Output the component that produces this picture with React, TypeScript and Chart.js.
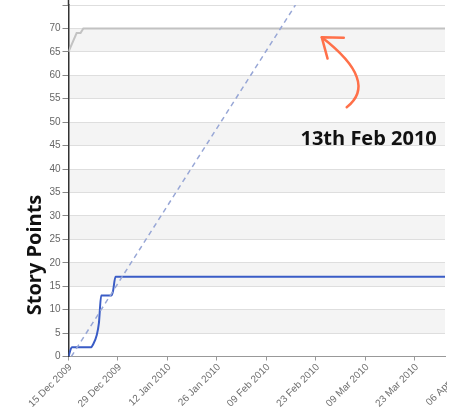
import React, { useEffect, useRef } from "react";
import { Chart, registerables } from "chart.js";

Chart.register(...registerables);

// x values are days since 15 Dec 2009
const xTickDays = [0, 14, 28, 42, 56, 70, 84, 98, 112];
const xTickLabels = [
  "15 Dec 2009",
  "29 Dec 2009",
  "12 Jan 2010",
  "26 Jan 2010",
  "09 Feb 2010",
  "23 Feb 2010",
  "09 Mar 2010",
  "23 Mar 2010",
  "06 Apr 2010",
];
const xMaxDay = 106.5;
const yMax = 75;
const yStep = 5;

// total scope (grey)
const scopeDays = [0, 2.3, 3.4, 4.2, 106.5];
const scopeValues = [65, 69, 69, 70, 70];

// completed story points (blue)
const doneDays = [0, 0.95, 6.4, 6.9, 8.0, 8.6, 9.25, 12.1, 12.55, 13.3, 106.5];
const doneValues = [0, 2, 2, 2.5, 4.6, 7.1, 13, 13, 13.8, 17, 17];

// ideal / projected line (dashed)
const idealDays = [0.8, 64.2];
const idealValues = [0, 75];

const yTitle = "Story Points";
const noteText = "13th Feb 2010";
// annotation anchor points in data coordinates [day, value]
const noteAt = [84.9, 46.3];
const arrowStart = [78.7, 53.2];
const arrowCtrl = [87.9, 58.6];
const arrowTip = [71.65, 68.1];

const toPoints = (xs: number[], ys: number[]) => xs.map((x, i) => ({ x, y: ys[i] }));

const CANVAS_H = 417;
const SHIFT = 3;

const bandsPlugin = {
  id: "bands",
  beforeDraw(chart: any) {
    const { ctx, chartArea, scales } = chart;
    const y = scales.y;
    ctx.save();
    ctx.fillStyle = "#f4f4f4";
    for (let v = 0; v < yMax; v += yStep) {
      if ((v / yStep) % 2 === 1) {
        const top = y.getPixelForValue(v + yStep);
        const bot = y.getPixelForValue(v);
        ctx.fillRect(chartArea.left, top, chartArea.right - chartArea.left, bot - top);
      }
    }
    ctx.restore();
  },
};

const overlayPlugin = {
  id: "overlay",
  afterDraw(chart: any) {
    const { ctx, chartArea, scales, width, height } = chart;
    const x = scales.x;
    const y = scales.y;
    ctx.save();

    // axis line continues to the top edge
    ctx.strokeStyle = "#333";
    ctx.lineWidth = 1.5;
    ctx.beginPath();
    ctx.moveTo(chartArea.left, 0);
    ctx.lineTo(chartArea.left, chartArea.top);
    ctx.stroke();

    // x tick labels (rotated), including those beyond the visible range
    ctx.save();
    ctx.beginPath();
    ctx.rect(0, chartArea.bottom, chartArea.right + 2, height - chartArea.bottom);
    ctx.clip();
    ctx.font = "10px 'Liberation Sans', Arial, sans-serif";
    ctx.fillStyle = "#6e6e6e";
    ctx.textAlign = "right";
    ctx.textBaseline = "middle";
    xTickDays.forEach((d, i) => {
      const px = x.getPixelForValue(d);
      ctx.save();
      ctx.translate(px + 2, chartArea.bottom + 9);
      ctx.rotate(-Math.PI / 4);
      ctx.fillText(xTickLabels[i], 0, 0);
      ctx.restore();
    });
    ctx.restore();

    // y title
    ctx.save();
    ctx.font = "bold 20px 'Open Sans', sans-serif";
    ctx.fillStyle = "#111";
    ctx.textAlign = "center";
    ctx.textBaseline = "middle";
    ctx.translate(35, 255 + SHIFT);
    ctx.rotate(-Math.PI / 2);
    ctx.fillText(yTitle, 0, 0);
    ctx.restore();

    // note text
    ctx.font = "bold 20px 'Open Sans', sans-serif";
    ctx.fillStyle = "#111";
    ctx.textAlign = "center";
    ctx.textBaseline = "middle";
    ctx.fillText(noteText, x.getPixelForValue(noteAt[0]), y.getPixelForValue(noteAt[1]));

    // arrow
    const sx = x.getPixelForValue(arrowStart[0]);
    const sy = y.getPixelForValue(arrowStart[1]);
    const cx = x.getPixelForValue(arrowCtrl[0]);
    const cy = y.getPixelForValue(arrowCtrl[1]);
    const tx = x.getPixelForValue(arrowTip[0]);
    const ty = y.getPixelForValue(arrowTip[1]);
    ctx.strokeStyle = "#ff7049";
    ctx.lineWidth = 2.5;
    ctx.lineCap = "round";
    ctx.lineJoin = "round";
    ctx.beginPath();
    ctx.moveTo(sx, sy);
    ctx.quadraticCurveTo(cx, cy, tx, ty);
    ctx.stroke();
    const back = Math.atan2(cy - ty, cx - tx);
    const len = 22;
    const spread = (37 * Math.PI) / 180;
    ctx.beginPath();
    ctx.moveTo(tx + len * Math.cos(back - spread), ty + len * Math.sin(back - spread));
    ctx.lineTo(tx, ty);
    ctx.lineTo(tx + len * Math.cos(back + spread), ty + len * Math.sin(back + spread));
    ctx.stroke();
    ctx.restore();
  },
};

export default function App() {
  const ref = useRef<HTMLCanvasElement | null>(null);

  useEffect(() => {
    document.body.style.margin = "0";
    const canvas = ref.current;
    if (!canvas) return;
    const chart = new Chart(canvas, {
      type: "line",
      data: {
        datasets: [
          {
            label: "Ideal",
            data: toPoints(idealDays, idealValues),
            borderColor: "#98a7d6",
            borderWidth: 1.5,
            borderDash: [5, 4],
            pointRadius: 0,
            fill: false,
          },
          {
            label: "Scope",
            data: toPoints(scopeDays, scopeValues),
            borderColor: "#c2c2c2",
            borderWidth: 2,
            pointRadius: 0,
            fill: false,
          },
          {
            label: "Done",
            data: toPoints(doneDays, doneValues),
            borderColor: "#3a5cc6",
            borderWidth: 2,
            pointRadius: 0,
            cubicInterpolationMode: "monotone",
            fill: false,
          },
        ],
      },
      options: {
        responsive: false,
        animation: false,
        events: [],
        layout: { padding: { left: 0, right: 10, top: 0, bottom: 0 } },
        plugins: { legend: { display: false }, tooltip: { enabled: false } },
        scales: {
          x: {
            type: "linear",
            min: 0,
            max: xMaxDay,
            afterBuildTicks: (scale: any) => {
              scale.ticks = xTickDays.filter((d) => d <= xMaxDay).map((v) => ({ value: v }));
            },
            afterFit: (scale: any) => {
              scale.height = 57.5;
            },
            ticks: { display: false },
            grid: {
              drawOnChartArea: false,
              tickLength: 4,
              color: "#999",
            },
            border: { color: "#999", width: 1 },
          },
          y: {
            type: "linear",
            min: 0,
            max: yMax,
            afterFit: (scale: any) => {
              scale.width = 68.5;
            },
            ticks: {
              stepSize: yStep,
              color: "#666",
              padding: 2,
              font: { family: "'Liberation Sans', Arial, sans-serif", size: 10 },
              callback: (v: any) => (v === yMax ? "" : String(v)),
            },
            grid: {
              color: "#dedede",
              tickLength: 6,
              tickColor: "#888",
            },
            border: { color: "#333", width: 1.5 },
          },
        },
      } as any,
      plugins: [bandsPlugin, overlayPlugin],
    });
    return () => chart.destroy();
  }, []);

  return (
    <div style={{ position: "relative", width: 455, height: 414, overflow: "hidden" }}>
      <canvas
        ref={ref}
        width={455}
        height={CANVAS_H}
        style={{ display: "block", position: "absolute", left: 0, top: -SHIFT }}
      />
    </div>
  );
}
